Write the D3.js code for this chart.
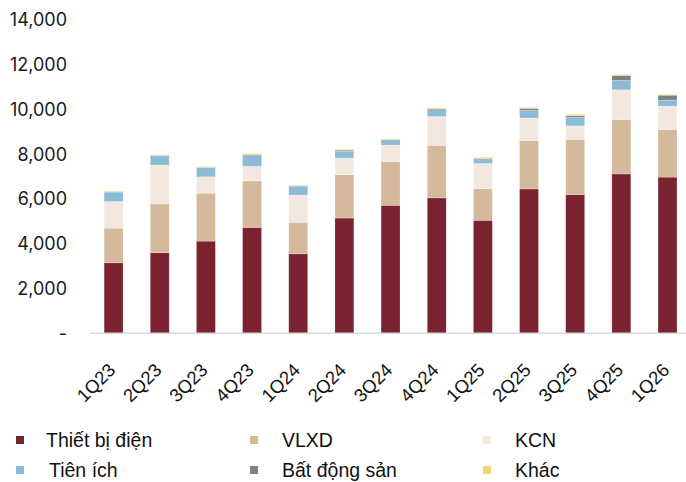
<!DOCTYPE html>
<html>
<head>
<meta charset="utf-8">
<style>
    html, body { margin: 0; padding: 0; background: #ffffff; }
    svg { display: block; }
    .yAxis text { font-family: Inter, "Open Sans", sans-serif; font-size: 18px; fill: #1a1a1a; }
    .xAxis text { font-family: "Liberation Sans", Arial, sans-serif; font-size: 18.5px; fill: #111; }
    .legend text { font-family: "Liberation Sans", Arial, sans-serif; font-size: 19.5px; fill: #111; }
</style>
<script src="https://cdn.jsdelivr.net/npm/d3@7"></script>
</head>
<body>
<div id="chart"></div>
<script>
    // quarters on the x axis
    var quarters = ["1Q23", "2Q23", "3Q23", "4Q23", "1Q24", "2Q24", "3Q24",
        "4Q24", "1Q25", "2Q25", "3Q25", "4Q25", "1Q26"];

    // series values
    var thietBiDien = [3150, 3600, 4120, 4730, 3550, 5150, 5720, 6050, 5050, 6450, 6200, 7120, 6980];
    var vlxd = [1550, 2180, 2140, 2080, 1410, 1940, 1950, 2350, 1410, 2160, 2460, 2420, 2130];
    var kcn = [1190, 1740, 730, 650, 1220, 740, 740, 1290, 1130, 1010, 610, 1340, 1040];
    var tienIch = [420, 420, 420, 480, 400, 310, 240, 300, 210, 340, 380, 420, 270];
    var batDongSan = [20, 10, 10, 45, 10, 45, 10, 45, 20, 90, 75, 220, 220];
    var khac = [25, 30, 30, 45, 30, 40, 30, 45, 45, 45, 60, 45, 30];

    var seriesNames = ["Thiết bị điện", "VLXD", "KCN", "Tiên ích", "Bất động sản", "Khác"];
    var seriesColors = ["#7b2230", "#d4b99c", "#f3e8df", "#8bbbd6", "#808080", "#f2d675"];
    var yTicks = [0, 2000, 4000, 6000, 8000, 10000, 12000, 14000];

    var width = 686, height = 482;
    var plotLeft = 90.5, plotRight = 690.6, plotTop = 20, plotBottom = 333.3;

    // build table for stacking
    var table = quarters.map(function (q, i) {
        return {
            q: q,
            "Thiết bị điện": thietBiDien[i],
            "VLXD": vlxd[i],
            "KCN": kcn[i],
            "Tiên ích": tienIch[i],
            "Bất động sản": batDongSan[i],
            "Khác": khac[i]
        };
    });
    var stacked = d3.stack().keys(seriesNames)(table);

    var svg = d3.select("#chart").append("svg")
        .attr("width", width)
        .attr("height", height);

    var xscale = d3.scaleBand()
        .domain(quarters)
        .range([plotLeft, plotRight])
        .paddingInner(0.59)
        .paddingOuter(0.295);

    var yscale = d3.scaleLinear()
        .domain([0, 14000])
        .range([plotBottom, plotTop]);

    var color = d3.scaleOrdinal().domain(seriesNames).range(seriesColors);

    // y axis, no line and no ticks
    var y_axis = d3.axisLeft(yscale)
        .tickValues(yTicks)
        .tickSize(0)
        .tickPadding(0)
        .tickFormat(function (d) { return d === 0 ? "-" : d3.format(",")(d); });
    svg.append("g")
        .attr("class", "yAxis")
        .attr("transform", "translate(67,0)")
        .call(y_axis)
        .call(function (g) { g.select(".domain").remove(); });

    // bars
    svg.append("g").selectAll("g")
        .data(stacked)
        .enter().append("g")
        .attr("fill", function (d) { return color(d.key); })
        .selectAll("rect")
        .data(function (d) { return d; })
        .enter().append("rect")
        .attr("x", function (d) { return xscale(d.data.q); })
        .attr("y", function (d) { return yscale(d[1]); })
        .attr("height", function (d) { return yscale(d[0]) - yscale(d[1]); })
        .attr("width", xscale.bandwidth())
        .attr("stroke", "#ffffff")
        .attr("stroke-opacity", 0.35)
        .attr("stroke-width", 0.6);

    // x axis
    var x_axis = d3.axisBottom(xscale).tickSize(0).tickPadding(0);
    var gx = svg.append("g")
        .attr("class", "xAxis")
        .attr("transform", "translate(0," + plotBottom + ")")
        .call(x_axis);
    gx.select(".domain")
        .attr("d", "M" + plotLeft + ",0H686")
        .attr("stroke", "#d9d9d9")
        .attr("stroke-width", 1.5);
    gx.selectAll("text")
        .style("text-anchor", "end")
        .attr("dy", "0")
        .attr("y", 0)
        .attr("transform", "translate(3,38) rotate(-45)");

    // legend
    var legendX = [16, 250, 483];
    var legendY = [440, 470];
    var legend = svg.append("g").attr("class", "legend")
        .selectAll("g")
        .data(seriesNames)
        .enter().append("g")
        .attr("transform", function (d, i) {
            return "translate(" + legendX[i % 3] + "," + legendY[Math.floor(i / 3)] + ")";
        });
    legend.append("rect")
        .attr("x", 0).attr("y", -4)
        .attr("width", 8).attr("height", 8)
        .attr("fill", function (d) { return color(d); });
    legend.append("text")
        .attr("x", function (d, i) { return i === 0 ? 30 : (i === 3 ? 33 : 32); })
        .attr("y", 7)
        .text(function (d) { return d; });
</script>
</body>
</html>
